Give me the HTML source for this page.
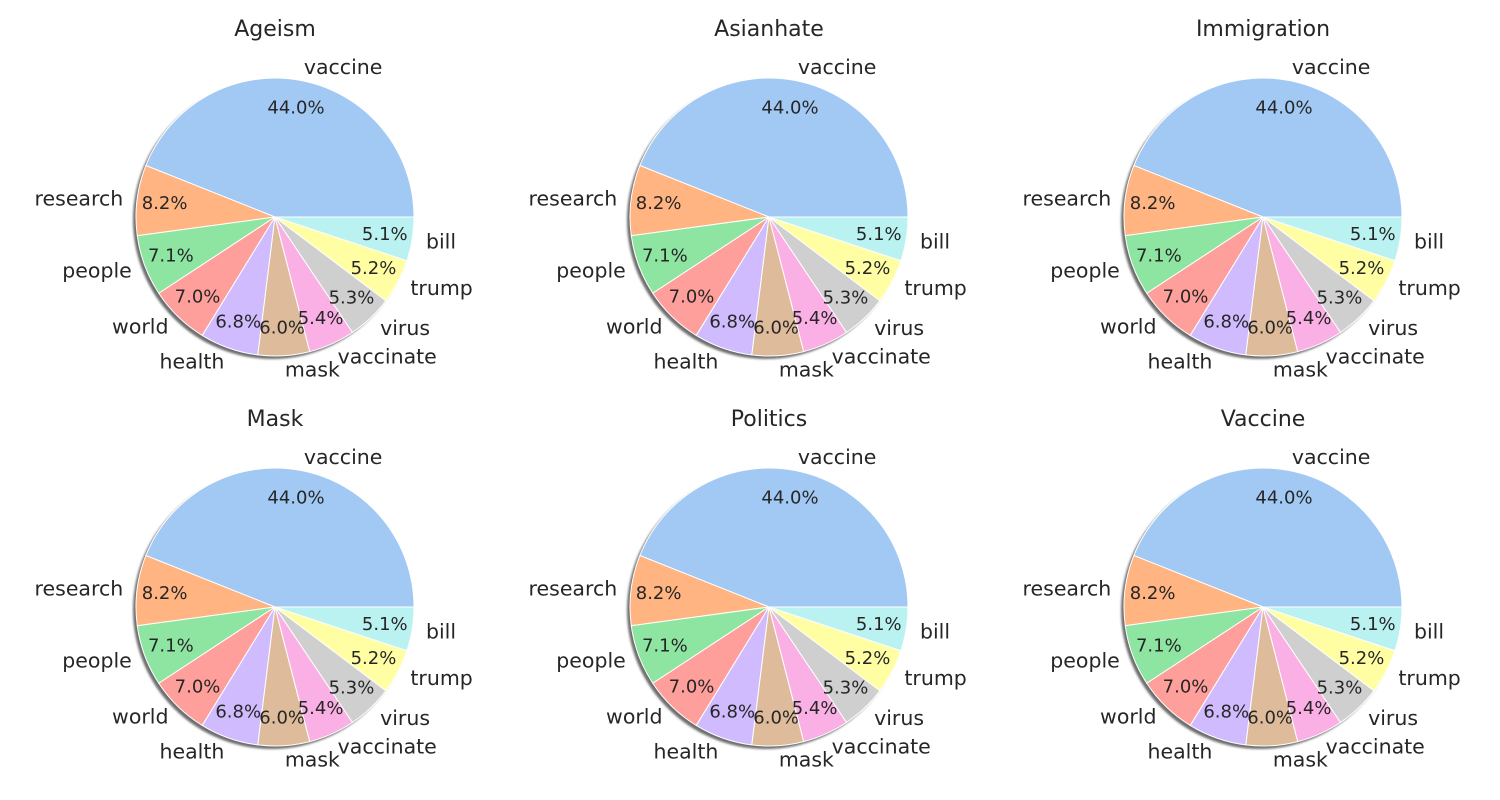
<!DOCTYPE html>
<html><head><meta charset="utf-8"><style>
body{margin:0;background:#fff;}
svg{display:block;font-family:"DejaVu Sans","Liberation Sans",sans-serif;}
</style></head><body>
<svg id="chart" width="1500" height="800">
<defs><filter id="blur" x="-10%" y="-10%" width="120%" height="120%"><feGaussianBlur stdDeviation="1"/></filter></defs>
</svg>
<script>
const titles = ["Ageism","Asianhate","Immigration","Mask","Politics","Vaccine"];
const categories = ["vaccine","research","people","world","health","mask","vaccinate","virus","trump","bill"];
const values = [44.0,8.2,7.1,7.0,6.8,6.0,5.4,5.3,5.2,5.1];
const colors = ["#a1c9f4","#ffb482","#8de5a1","#ff9f9b","#d0bbff","#debb9b","#fab0e4","#cfcfcf","#fffea3","#b9f2f0"];
const svg = document.getElementById('chart');
const NS = "http://www.w3.org/2000/svg";
const R = 139;
const centersX = [275,769,1263];
const centersY = [217,607];
function mk(tag, attrs, parent){const e=document.createElementNS(NS,tag);for(const k in attrs)e.setAttribute(k,attrs[k]);parent.appendChild(e);return e;}
const total = values.reduce((a,b)=>a+b,0);
titles.forEach((t,i)=>{
  const cx = centersX[i%3], cy = centersY[Math.floor(i/3)];
  const g = mk('g',{},svg);
  
  
  const title = mk('text',{x:cx,y:cy-181,'text-anchor':'middle','font-size':22,fill:'#262626'},g);
  title.textContent = t;
  
  
  const sh = mk('circle',{cx:cx-3,cy:cy+3,r:R,fill:'#6e6e6e',filter:'url(#blur)'},g);
  
  
  let a0 = 0;
  values.forEach((v,j)=>{
    const sweep = v/total*360;
    const a1 = a0 + sweep;
    const r0 = a0*Math.PI/180, r1 = a1*Math.PI/180;
    const x0 = cx + R*Math.cos(r0), y0 = cy - R*Math.sin(r0);
    const x1 = cx + R*Math.cos(r1), y1 = cy - R*Math.sin(r1);
    const large = sweep>180?1:0;
    const p = mk('path',{d:`M${cx},${cy} L${x0},${y0} A${R},${R} 0 ${large} 0 ${x1},${y1} Z`,fill:colors[j],stroke:'#fff','stroke-width':1},g);
    
    
    const mid = (a0+a1)/2*Math.PI/180;
    const cosm = Math.cos(mid), sinm = Math.sin(mid);
    const lx = cx + 1.1*R*cosm, ly = cy - 1.1*R*sinm;
    const lab = mk('text',{x:lx,y:ly,'text-anchor':cosm>=0?'start':'end','dominant-baseline':'central','font-size':20.5,fill:'#262626'},g);
    lab.textContent = categories[j];
    
    
    const px = cx + 0.8*R*cosm, py = cy - 0.8*R*sinm;
    const pct = mk('text',{x:px,y:py,'text-anchor':'middle','dominant-baseline':'central','font-size':18,fill:'#262626'},g);
    pct.textContent = (v/total*100).toFixed(1)+'%';
    
    
    a0 = a1;
  });
});
</script>
</body></html>
